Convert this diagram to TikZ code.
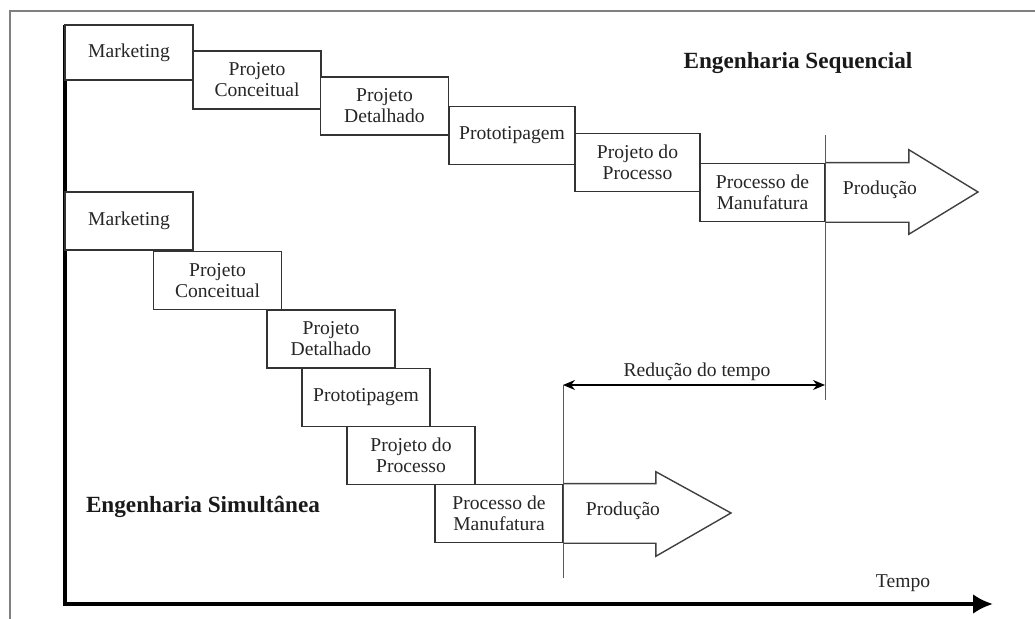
\documentclass[tikz,border=0pt]{standalone}
\usepackage{fontspec}
\setmainfont{Liberation Serif}
\usetikzlibrary{arrows.meta,calc,positioning}

\begin{document}
\begin{tikzpicture}[x=0.5pt,y=-0.5pt]

\tikzset{etapa/.style = {shape=rectangle,draw=black!80,line width=0.8pt,fill=white,minimum width=64pt,minimum height=29pt,align=center,inner sep=1pt,text=black!85,font=\fontsize{9.8}{10.5}\selectfont}}
\tikzset{titulo/.style = {text=black!90,font=\fontsize{11.6}{13}\selectfont\bfseries}}
\tikzset{rotulo/.style = {text=black!85,font=\fontsize{9.8}{11}\selectfont}}
\tikzset{seta/.style = {draw=black!75,line width=0.7pt,fill=white}}
\tikzset{guia/.style = {draw=black!65,line width=0.5pt}}

\useasboundingbox (0,0) rectangle (1035,619);

% frame
\draw[black!50,line width=1.2pt] (10,619) -- (10,11) -- (1035,11);

% axes
\coordinate (topo) at (65,25);
\coordinate (origem) at (65,604);
\coordinate (fim) at (993,604);
\draw[line width=2pt,-{Latex[length=10pt,width=10pt]}] (topo) -- (origem) -- (fim);
\node[rotulo] (tempo) at (903,583) {Tempo};

% guides
\coordinate (g1a) at (825,135);
\coordinate (g1b) at (825,400);
\coordinate (g2a) at (563,385);
\coordinate (g2b) at (563,578);
\draw[guia] (g1a) -- (g1b);
\draw[guia] (g2a) -- (g2b);

% sequential
\node[titulo] (seq) at (798,63) {Engenharia Sequencial};
\node[etapa,minimum height=27.5pt] (s1) at (129,52.5) {Marketing};
\node[etapa] (s2) at (257,80) {Projeto\\Conceitual};
\node[etapa] (s3) at (384.5,106) {Projeto\\Detalhado};
\node[etapa,minimum width=63pt] (s4) at (512,135.5) {Prototipagem};
\node[etapa,minimum width=62.5pt] (s5) at (637.5,162.5) {Projeto do\\Processo};
\node[etapa,minimum width=62.5pt] (s6) at (762.5,192.5) {Processo de\\Manufatura};
\draw[seta] (s6.north east) -- ++(83,0) -- ++(0,-13) -- (978,192)
  -- ($(s6.south east)+(83,12)$) -- ++(0,-12) -- (s6.south east);
\node[rotulo] (p1) at (880,190) {Produção};

% simultaneous
\node[titulo] (sim) at (203,507) {Engenharia Simultânea};
\node[etapa] (m1) at (129,221) {Marketing};
\node[etapa] (m2) at (217.5,280.5) {Projeto\\Conceitual};
\node[etapa] (m3) at (331,339) {Projeto\\Detalhado};
\node[etapa] (m4) at (366,397.5) {Prototipagem};
\node[etapa] (m5) at (411,455.5) {Projeto do\\Processo};
\node[etapa] (m6) at (499,513.5) {Processo de\\Manufatura};
\draw[seta] (m6.north east) -- ++(92,0) -- ++(0,-12) -- (731,513)
  -- ($(m6.south east)+(92,13)$) -- ++(0,-13) -- (m6.south east);
\node[rotulo] (p2) at (623,511) {Produção};

% time reduction
\draw[line width=0.6pt,{Stealth[length=6pt,width=5pt]}-{Stealth[length=6pt,width=5pt]}] (g2a) -- (g1a |- g2a);
\node[rotulo] (reducao) at (697,372) {Redução do tempo};
\end{tikzpicture}
\end{document}
